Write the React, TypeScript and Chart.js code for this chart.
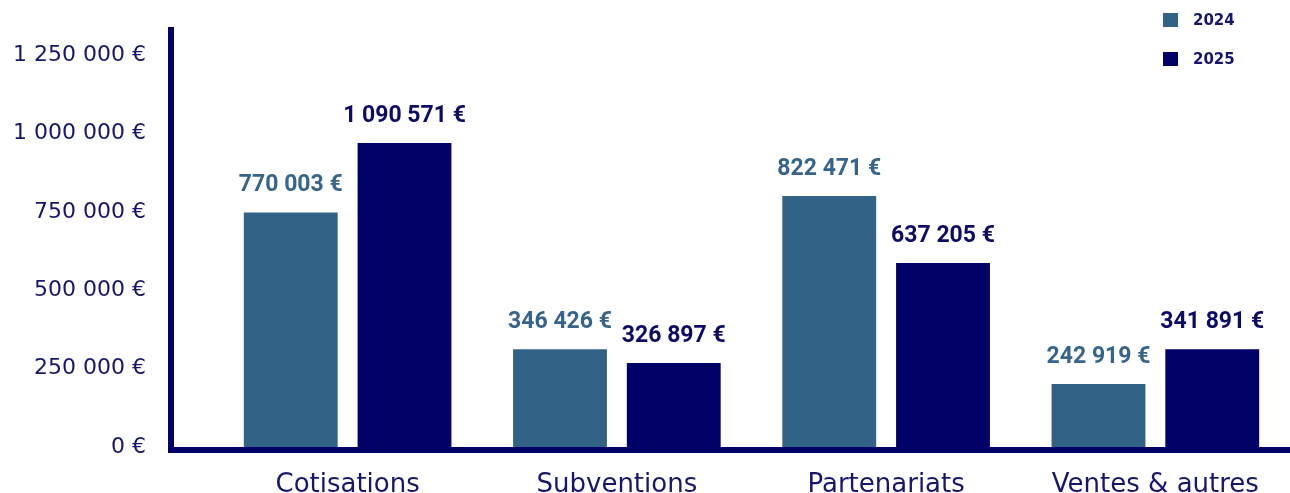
import React, { useEffect, useRef } from 'react';
import { Chart, registerables } from 'chart.js';

Chart.register(...registerables);

const categories = ['Cotisations', 'Subventions', 'Partenariats', 'Ventes & autres'];
const seriesNames = ['2024', '2025'];
// bar heights as drawn against the axis
const bars2024 = [748000, 312000, 800000, 201000];
const bars2025 = [969000, 268000, 587000, 312000];
// values printed above the bars
const labels2024 = [770003, 346426, 822471, 242919];
const labels2025 = [1090571, 326897, 637205, 341891];
const yMin = 0;
const yMax = 1250000;
const yStep = 250000;

const COLOR_2024 = '#336287';
const COLOR_2025 = '#010066';
const NAVY = '#16166c';

const fmt = (v: number) => String(v).replace(/\B(?=(\d{3})+(?!\d))/g, ' ') + ' €';

const axisLinesPlugin = {
  id: 'axisLines',
  afterDatasetsDraw(chart: any) {
    const { ctx, scales } = chart;
    const y0 = Math.round(scales.y.getPixelForValue(0));
    const yTop = scales.y.getPixelForValue(yMax) - 28;
    ctx.save();
    ctx.fillStyle = '#000066';
    ctx.fillRect(168, yTop, 6, y0 + 6 - yTop);
    ctx.fillRect(168, y0, chart.width - 168, 6);
    ctx.restore();
  },
};

const valueLabelsPlugin = {
  id: 'valueLabels',
  afterDatasetsDraw(chart: any) {
    const { ctx } = chart;
    ctx.save();
    ctx.textAlign = 'center';
    ctx.textBaseline = 'middle';
    ctx.font = 'bold 23px Roboto';
    chart.data.datasets.forEach((ds: any, di: number) => {
      const meta = chart.getDatasetMeta(di);
      ctx.fillStyle = ds.labelColor;
      meta.data.forEach((bar: any, i: number) => {
        ctx.fillText(fmt(ds.printed[i]), bar.x, bar.y - 27);
      });
    });
    ctx.restore();
  },
};

const legendPlugin = {
  id: 'customLegend',
  afterDraw(chart: any) {
    const { ctx } = chart;
    ctx.save();
    ctx.font = 'bold 15px "DejaVu Sans"';
    ctx.textBaseline = 'middle';
    ctx.textAlign = 'left';
    chart.data.datasets.forEach((ds: any, di: number) => {
      const top = 13 + di * 39;
      ctx.fillStyle = ds.backgroundColor;
      ctx.fillRect(1163, top, 15, 14);
      ctx.fillStyle = NAVY;
      ctx.fillText(ds.label, 1193, top + 8);
    });
    ctx.restore();
  },
};

export default function App() {
  const canvasRef = useRef<HTMLCanvasElement | null>(null);

  useEffect(() => {
    document.body.style.margin = '0';
    if (!canvasRef.current) return;
    const chart = new Chart(canvasRef.current, {
      type: 'bar',
      data: {
        labels: categories,
        datasets: [
          {
            label: seriesNames[0],
            data: bars2024,
            backgroundColor: COLOR_2024,
            categoryPercentage: 0.845,
            barPercentage: 0.825,
            printed: labels2024,
            labelColor: '#36648a',
          } as any,
          {
            label: seriesNames[1],
            data: bars2025,
            backgroundColor: COLOR_2025,
            categoryPercentage: 0.845,
            barPercentage: 0.825,
            printed: labels2025,
            labelColor: '#0c0c68',
          } as any,
        ],
      },
      options: {
        animation: false,
        responsive: true,
        maintainAspectRatio: false,
        layout: { padding: { top: 55, left: 0, right: 0, bottom: 0 } },
        plugins: {
          legend: { display: false },
          tooltip: { enabled: false },
        },
        scales: {
          x: {
            grid: { display: false, drawTicks: false },
            border: { display: false },
            ticks: {
              padding: 23,
              color: NAVY,
              font: { family: '"DejaVu Sans"', size: 26 },
            },
            afterFit(scale: any) {
              scale.height = 46;
            },
          },
          y: {
            min: yMin,
            max: yMax,
            grid: { display: false, drawTicks: true, tickLength: 67 },
            border: { display: false },
            ticks: {
              stepSize: yStep,
              padding: 0,
              color: NAVY,
              font: { family: '"DejaVu Sans"', size: 22 },
              callback: (v: any) => fmt(Number(v)),
            },
            afterFit(scale: any) {
              scale.width = 213;
            },
          },
        },
      },
      plugins: [axisLinesPlugin, valueLabelsPlugin, legendPlugin],
    });
    return () => chart.destroy();
  }, []);

  return (
    <div style={{ position: 'relative', width: 1290, height: 493 }}>
      <canvas ref={canvasRef} />
    </div>
  );
}
